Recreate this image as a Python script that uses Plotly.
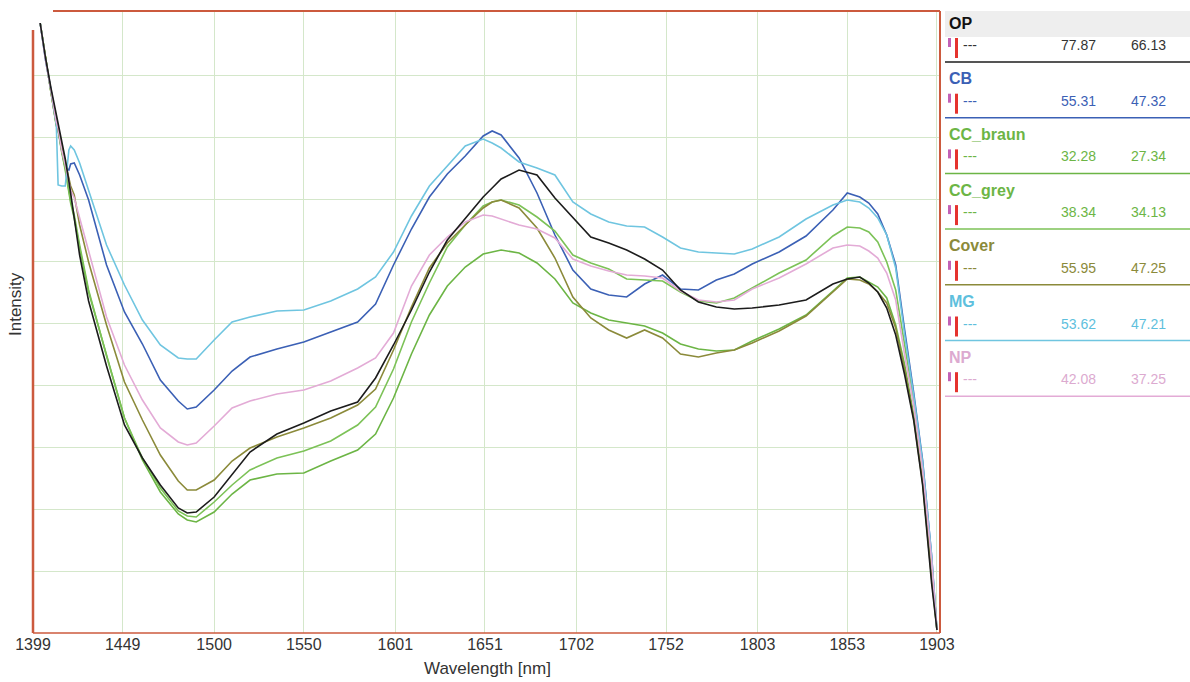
import plotly.graph_objects as go

# ---------------- data ----------------
wavelength = [1403, 1406, 1409, 1412, 1413, 1415, 1417, 1419, 1420, 1422, 1425, 1430, 1440, 1450, 1460,
              1470, 1480, 1485, 1490, 1500, 1510, 1520, 1535, 1550, 1565, 1580, 1590, 1600, 1610, 1620,
              1630, 1640, 1650, 1655, 1660, 1670, 1680, 1690, 1700, 1710, 1720, 1730, 1740, 1750, 1760,
              1770, 1780, 1790, 1800, 1815, 1830, 1845, 1853, 1860, 1865, 1870, 1875, 1880, 1885, 1890,
              1895, 1900, 1903]

op = [610, 575, 545, 519, 512, 491, 474, 452, 439, 418, 378, 332, 267, 208, 175,
      148, 125, 120, 121, 136, 158, 181, 199, 210, 222, 231, 255, 288, 323, 361,
      393, 415, 436, 445, 454, 463, 458, 435, 415, 396, 390, 383, 374, 363, 343,
      331, 326, 324, 325, 328, 333, 349, 354, 356, 350, 341, 325, 298, 258, 213,
      148, 50, 3]

cb = [610, 573, 543, 511, 503, 483, 465, 463, 469, 470, 458, 433, 368, 321, 289,
      253, 232, 224, 226, 243, 262, 276, 284, 291, 301, 311, 329, 368, 404, 436,
      459, 477, 497, 502, 498, 475, 440, 398, 363, 344, 338, 336, 349, 358, 344,
      343, 353, 359, 369, 381, 397, 423, 440, 436, 430, 419, 398, 368, 303, 241,
      173, 78, 3]

cc_braun = [610, 573, 541, 507, 503, 481, 463, 441, 430, 415, 385, 341, 277, 215, 173,
            141, 119, 113, 111, 121, 139, 153, 159, 160, 172, 183, 199, 235, 279, 318,
            347, 366, 379, 381, 383, 380, 370, 354, 330, 320, 313, 310, 307, 300, 289,
            284, 282, 283, 292, 304, 318, 342, 355, 356, 351, 346, 335, 308, 268, 218,
            153, 58, 3]

cc_grey = [610, 573, 541, 508, 505, 483, 465, 443, 433, 418, 388, 343, 277, 215, 175,
           145, 122, 117, 116, 131, 148, 163, 175, 182, 192, 208, 226, 264, 311, 350,
           386, 408, 427, 431, 433, 428, 416, 402, 378, 370, 364, 354, 353, 352, 341,
           332, 330, 335, 345, 360, 373, 397, 406, 405, 401, 391, 371, 343, 288, 233,
           166, 73, 3]

cover = [610, 573, 541, 509, 503, 486, 471, 455, 447, 438, 408, 371, 308, 251, 213,
         178, 152, 143, 143, 153, 172, 185, 196, 205, 215, 228, 244, 283, 326, 365,
         390, 408, 425, 431, 433, 425, 405, 375, 336, 315, 303, 295, 303, 295, 279,
         276, 280, 283, 290, 302, 317, 341, 354, 353, 349, 341, 330, 305, 263, 215,
         150, 55, 3]

mg = [610, 573, 543, 508, 448, 447, 447, 483, 487, 483, 470, 443, 388, 348, 313,
      288, 275, 274, 274, 293, 311, 316, 322, 323, 332, 344, 356, 381, 417, 447,
      467, 487, 494, 490, 485, 471, 465, 458, 431, 419, 411, 407, 406, 396, 385,
      381, 380, 379, 384, 396, 414, 428, 433, 431, 425, 415, 398, 365, 298, 238,
      171, 78, 3]

np_ = [610, 573, 543, 511, 505, 483, 468, 450, 443, 435, 415, 383, 316, 268, 233,
       205, 191, 188, 190, 207, 225, 232, 239, 243, 252, 265, 275, 300, 347, 378,
       396, 411, 418, 417, 414, 408, 404, 395, 374, 367, 362, 358, 357, 355, 342,
       333, 331, 333, 344, 355, 369, 385, 388, 387, 382, 375, 360, 333, 278, 228,
       163, 73, 3]

series_names = ["OP", "CB", "CC_braun", "CC_grey", "Cover", "MG", "NP"]
series_values = [op, cb, cc_braun, cc_grey, cover, mg, np_]
legend_val1 = ["77.87", "55.31", "32.28", "38.34", "55.95", "53.62", "42.08"]
legend_val2 = ["66.13", "47.32", "27.34", "34.13", "47.25", "47.21", "37.25"]

x_tick_labels = ["1399", "1449", "1500", "1550", "1601", "1651", "1702", "1752", "1803", "1853", "1903"]
y_grid = [62, 124, 186, 248, 310, 372, 434, 496, 558]

# ---------------- styles ----------------
line_colors = {"OP": "#1c1c1c", "CB": "#3b60b5", "CC_braun": "#6cb545", "CC_grey": "#7cc257",
               "Cover": "#8b8a3a", "MG": "#6fc5e0", "NP": "#e3abd6"}
text_colors = {"OP": "#111111", "CB": "#3b60b5", "CC_braun": "#6cb545", "CC_grey": "#6cb545",
               "Cover": "#8b8a3a", "MG": "#5ebfdd", "NP": "#dcaad0"}
val_colors = {"OP": "#333333", "CB": "#3b60b5", "CC_braun": "#6cb545", "CC_grey": "#6cb545",
              "Cover": "#8b8a3a", "MG": "#5ebfdd", "NP": "#dcaad0"}
FONT = "Liberation Sans, Arial, sans-serif"
FRAME = "#cc5a3e"
GRID = "#d4e7ca"

W, H = 1190, 682
L, R, T, B = 33, 940, 11, 633  # plot area in pixels


def px(x):
    return (x - L) / (R - L)


def py(y):
    return (B - y) / (B - T)


fig = go.Figure()
draw_order = ["CB", "CC_braun", "CC_grey", "Cover", "MG", "NP", "OP"]
for name in draw_order:
    vals = series_values[series_names.index(name)]
    fig.add_trace(go.Scatter(x=wavelength, y=vals, mode="lines", name=name,
                             line=dict(color=line_colors[name], width=1.6), showlegend=False))

shapes = []
# frame
shapes.append(dict(type="line", xref="paper", yref="paper", x0=px(33), x1=px(33), y0=py(633), y1=py(30),
                   line=dict(color=FRAME, width=2.5)))
shapes.append(dict(type="line", xref="paper", yref="paper", x0=px(33), x1=px(940), y0=py(633), y1=py(633),
                   line=dict(color=FRAME, width=1.5)))
shapes.append(dict(type="line", xref="paper", yref="paper", x0=px(940), x1=px(940), y0=py(633), y1=py(11),
                   line=dict(color=FRAME, width=2)))
shapes.append(dict(type="line", xref="paper", yref="paper", x0=px(53), x1=px(940), y0=py(11), y1=py(11),
                   line=dict(color=FRAME, width=2)))

annotations = []
# legend panel
shapes.append(dict(type="rect", xref="paper", yref="paper", x0=px(945), x1=px(1190), y0=py(37), y1=py(11),
                   fillcolor="#eeeeee", line=dict(width=0), layer="below"))
for i, name in enumerate(series_names):
    y0 = 23 + 55.7 * i
    annotations.append(dict(xref="paper", yref="paper", x=px(947), y=py(y0), text="<b>%s</b>" % name,
                            showarrow=False, xanchor="left", yanchor="middle",
                            font=dict(family=FONT, size=16, color=text_colors[name])))
    shapes.append(dict(type="rect", xref="paper", yref="paper", x0=px(948), x1=px(951),
                       y0=py(y0 + 24), y1=py(y0 + 15), fillcolor="#c261b6", line=dict(width=0)))
    shapes.append(dict(type="rect", xref="paper", yref="paper", x0=px(955), x1=px(958),
                       y0=py(y0 + 35), y1=py(y0 + 15), fillcolor="#e5332e", line=dict(width=0)))
    annotations.append(dict(xref="paper", yref="paper", x=px(961), y=py(y0 + 22), text="---",
                            showarrow=False, xanchor="left", yanchor="middle",
                            font=dict(family=FONT, size=14, color=val_colors[name])))
    annotations.append(dict(xref="paper", yref="paper", x=px(1078), y=py(y0 + 22), text=legend_val1[i],
                            showarrow=False, xanchor="center", yanchor="middle",
                            font=dict(family=FONT, size=14, color=val_colors[name])))
    annotations.append(dict(xref="paper", yref="paper", x=px(1148), y=py(y0 + 22), text=legend_val2[i],
                            showarrow=False, xanchor="center", yanchor="middle",
                            font=dict(family=FONT, size=14, color=val_colors[name])))
    shapes.append(dict(type="line", xref="paper", yref="paper", x0=px(945), x1=px(1190),
                       y0=py(y0 + 39), y1=py(y0 + 39), line=dict(color=line_colors[name], width=1.5)))

# axis titles
annotations.append(dict(xref="paper", yref="paper", x=px(487), y=py(668), text="Wavelength [nm]",
                        showarrow=False, xanchor="center", yanchor="middle",
                        font=dict(family=FONT, size=17, color="#333333")))
annotations.append(dict(xref="paper", yref="paper", x=px(15), y=py(304), text="Intensity", textangle=-90,
                        showarrow=False, xanchor="center", yanchor="middle",
                        font=dict(family=FONT, size=17, color="#333333")))

fig.update_layout(
    width=W, height=H,
    margin=dict(l=L, r=W - R, t=T, b=H - B, pad=0),
    paper_bgcolor="white", plot_bgcolor="white",
    shapes=shapes, annotations=annotations,
    xaxis=dict(range=[1399, 1904.7], tickvals=[int(t) for t in x_tick_labels], ticktext=x_tick_labels,
               showgrid=True, gridcolor=GRID, gridwidth=1, zeroline=False, showline=False, ticks="",
               tickfont=dict(family=FONT, size=16, color="#333333")),
    yaxis=dict(range=[0, 622], tickvals=y_grid, showticklabels=False, showgrid=True, gridcolor=GRID,
               gridwidth=1, zeroline=False, showline=False, ticks=""),
    hovermode=False,
)

fig.write_html("out.html")
